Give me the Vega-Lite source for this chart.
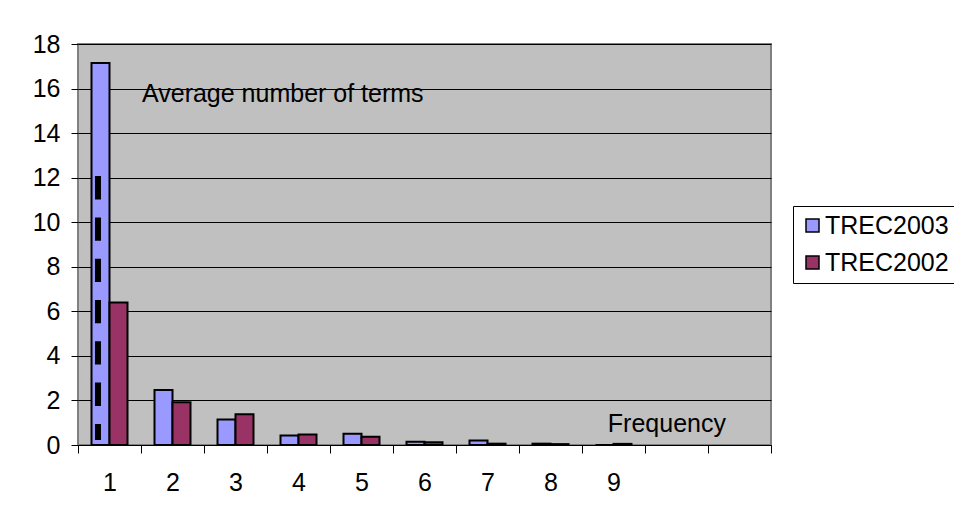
{
  "$schema": "https://vega.github.io/schema/vega-lite/v6.json",
  "width": 693,
  "height": 401,
  "autosize": {"type": "none"},
  "padding": {"left": 78, "top": 44, "right": 183, "bottom": 81},
  "background": "white",
  "config": {
    "font": "Liberation Sans",
    "view": {"fill": "#C0C0C0", "stroke": "#808080", "strokeWidth": 2},
    "axis": {
      "labelFont": "Liberation Sans",
      "labelFontSize": 25,
      "labelColor": "#000",
      "tickColor": "#000",
      "domainColor": "#000",
      "title": null
    }
  },
  "datasets": {
    "terms": [
      {"cat": 1, "series": "TREC2003", "avg": 17.15},
      {"cat": 1, "series": "TREC2002", "avg": 6.4},
      {"cat": 2, "series": "TREC2003", "avg": 2.47},
      {"cat": 2, "series": "TREC2002", "avg": 1.92},
      {"cat": 3, "series": "TREC2003", "avg": 1.14},
      {"cat": 3, "series": "TREC2002", "avg": 1.38},
      {"cat": 4, "series": "TREC2003", "avg": 0.43},
      {"cat": 4, "series": "TREC2002", "avg": 0.47},
      {"cat": 5, "series": "TREC2003", "avg": 0.5},
      {"cat": 5, "series": "TREC2002", "avg": 0.37},
      {"cat": 6, "series": "TREC2003", "avg": 0.15},
      {"cat": 6, "series": "TREC2002", "avg": 0.12},
      {"cat": 7, "series": "TREC2003", "avg": 0.2},
      {"cat": 7, "series": "TREC2002", "avg": 0.06},
      {"cat": 8, "series": "TREC2003", "avg": 0.06},
      {"cat": 8, "series": "TREC2002", "avg": 0.04},
      {"cat": 9, "series": "TREC2003", "avg": 0.0},
      {"cat": 9, "series": "TREC2002", "avg": 0.05}
    ]
  },
  "layer": [
    {
      "data": {"name": "terms"},
      "mark": {"type": "bar", "stroke": "#000", "strokeWidth": 2},
      "encoding": {
        "x": {
          "field": "cat",
          "type": "ordinal",
          "scale": {"domain": [1, 2, 3, 4, 5, 6, 7, 8, 9, 10, 11], "paddingInner": 0, "paddingOuter": 0},
          "axis": {
            "labelAngle": 0,
            "tickBand": "extent",
            "tickSize": 8,
            "labelPadding": 17,
            "grid": false,
            "labelExpr": "datum.value > 9 ? '' : datum.label"
          }
        },
        "xOffset": {
          "field": "series",
          "type": "nominal",
          "scale": {"domain": ["TREC2003", "TREC2002"], "paddingInner": 0, "paddingOuter": 0.75}
        },
        "y": {
          "field": "avg",
          "type": "quantitative",
          "scale": {"domain": [0, 18], "nice": false},
          "axis": {
            "values": [0, 2, 4, 6, 8, 10, 12, 14, 16, 18],
            "grid": true,
            "gridColor": "#000",
            "gridWidth": 1,
            "gridOpacity": 1,
            "domain": false,
            "tickSize": 7,
            "labelPadding": 11
          }
        },
        "color": {
          "field": "series",
          "type": "nominal",
          "scale": {"domain": ["TREC2003", "TREC2002"], "range": ["#9999FF", "#993366"]},
          "legend": {
            "title": null,
            "orient": "none",
            "legendX": 715,
            "legendY": 162,
            "strokeColor": "#000",
            "fillColor": "#fff",
            "padding": 7,
            "symbolType": "square",
            "symbolSize": 169,
            "symbolStrokeColor": "#000",
            "symbolStrokeWidth": 1.5,
            "symbolOpacity": 1,
            "labelFont": "Liberation Sans",
            "labelFontSize": 25,
            "labelColor": "#000",
            "labelOffset": 0,
            "rowPadding": 11
          }
        }
      }
    },
    {
      "data": {"values": [{"cat": 1, "top": 12.07, "bottom": 0.22}]},
      "mark": {"type": "rule", "color": "#000", "strokeWidth": 6, "strokeDash": [23.3, 18], "strokeCap": "butt"},
      "encoding": {
        "x": {"field": "cat", "type": "ordinal", "bandPosition": 0.317},
        "y": {"field": "top", "type": "quantitative"},
        "y2": {"field": "bottom"}
      }
    },
    {
      "data": {"values": [{"cat": 2, "y": 15.41, "note": "Average number of terms"}]},
      "mark": {"type": "text", "align": "left", "baseline": "alphabetic", "fontSize": 25, "font": "Liberation Sans", "color": "#000", "dx": 1},
      "encoding": {
        "x": {"field": "cat", "type": "ordinal", "bandPosition": 0},
        "y": {"field": "y", "type": "quantitative"},
        "text": {"field": "note"}
      }
    },
    {
      "data": {"values": [{"cat": 9, "y": 0.6, "note": "Frequency"}]},
      "mark": {"type": "text", "align": "left", "baseline": "alphabetic", "fontSize": 25, "font": "Liberation Sans", "color": "#000"},
      "encoding": {
        "x": {"field": "cat", "type": "ordinal", "bandPosition": 0.41},
        "y": {"field": "y", "type": "quantitative"},
        "text": {"field": "note"}
      }
    }
  ]
}
